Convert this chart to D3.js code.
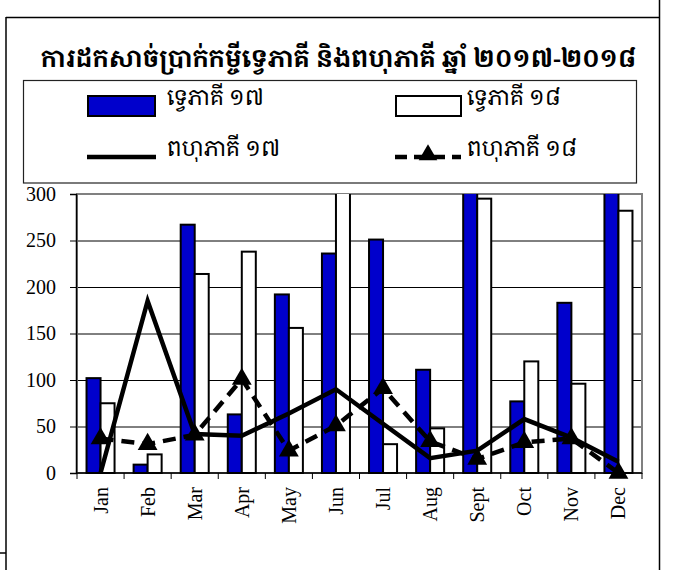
<!DOCTYPE html>
<html>
<head>
<meta charset="utf-8">
<script src="https://cdn.jsdelivr.net/npm/d3@7"></script>
<style>
  html, body { margin: 0; padding: 0; background: #fff; }
  svg { display: block; }
</style>
</head>
<body>
<svg id="chart" width="674" height="570"></svg>
<script>
const months = ["Jan","Feb","Mar","Apr","May","Jun","Jul","Aug","Sept","Oct","Nov","Dec"];
const bilateral17 = [102, 9, 267, 63, 192, 236, 251, 111, 320, 77, 183, 330];
const bilateral18 = [75, 20, 214, 238, 156, 310, 31, 48, 295, 120, 96, 282];
const multilateral17 = [0, 185, 42, 40, 64, 90, 53, 16, 24, 58, 38, 12];
const multilateral18 = [37, 31, 41, 101, 24, 51, 91, 34, 15, 33, 37, 0];
const yTicks = [0, 50, 100, 150, 200, 250, 300];
const titleText = "ការដកសាច់ប្រាក់កម្ចីទ្វេភាគី និងពហុភាគី ឆ្នាំ ២០១៧-២០១៨";
const legendLabels = ["ទ្វេភាគី ១៧", "ទ្វេភាគី ១៨", "ពហុភាគី ១៧", "ពហុភាគី ១៨"];

const khmerFont = "'Noto Serif Khmer', 'Noto Sans Khmer', 'Khmer OS', 'Khmer OS System', sans-serif";
const serif = "'Liberation Serif', 'Times New Roman', serif";
const blue = "#0000cc";

const svg = d3.select("#chart");

// outer frame lines
const frame = svg.append("g").attr("stroke", "#000").attr("stroke-width", 1.5).attr("fill", "none");
frame.append("line").attr("x1", 6).attr("x2", 659.5).attr("y1", 17.5).attr("y2", 17.5);
frame.append("line").attr("x1", 6).attr("x2", 6).attr("y1", 17).attr("y2", 570);
frame.append("line").attr("x1", 659.5).attr("x2", 659.5).attr("y1", 0).attr("y2", 570);
frame.append("line").attr("x1", 0).attr("x2", 6).attr("y1", 553).attr("y2", 553);

// title (font size fitted to the reference title width)
const title = svg.append("text")
  .attr("x", 338.5).attr("y", 67)
  .attr("text-anchor", "middle")
  .attr("font-family", khmerFont)
  .attr("font-weight", "bold")
  .attr("font-size", 28)
  .text(titleText);
const natural = title.node().getComputedTextLength();
if (natural > 0) title.attr("font-size", Math.min(30, 28 * 596 / natural));

// legend
const lg = svg.append("g");
lg.append("rect").attr("x", 23.5).attr("y", 80.5).attr("width", 613).attr("height", 102.5)
  .attr("fill", "#fff").attr("stroke", "#222").attr("stroke-width", 1.2);
lg.append("rect").attr("x", 88).attr("y", 96).attr("width", 67).attr("height", 20)
  .attr("fill", blue).attr("stroke", "#000").attr("stroke-width", 2);
lg.append("rect").attr("x", 396).attr("y", 96).attr("width", 65).attr("height", 20)
  .attr("fill", "#fff").attr("stroke", "#000").attr("stroke-width", 2);
lg.append("line").attr("x1", 87).attr("x2", 156).attr("y1", 157).attr("y2", 157)
  .attr("stroke", "#000").attr("stroke-width", 4.5);
lg.append("line").attr("x1", 395).attr("x2", 461).attr("y1", 157).attr("y2", 157)
  .attr("stroke", "#000").attr("stroke-width", 4.5).attr("stroke-dasharray", "12,7");
lg.append("path").attr("d", d3.symbol(d3.symbolTriangle, 150)())
  .attr("transform", "translate(428,155)").attr("fill", "#000");
const legendPos = [[167, 105], [467, 105], [167, 156], [467, 156]];
legendLabels.forEach((t, i) => {
  lg.append("text").attr("x", legendPos[i][0]).attr("y", legendPos[i][1])
    .attr("font-family", khmerFont).attr("font-size", 22).attr("fill", "#000").text(t);
});

// plot area
const pLeft = 77, pRight = 642, pTop = 194, pBottom = 473;
const x = d3.scaleBand().domain(months).range([pLeft, pRight]).padding(0);
const xs = d3.scaleBand().domain(["a", "b"]).range([0, x.bandwidth()]).paddingInner(0).paddingOuter(0.68);
const y = d3.scaleLinear().domain([0, 300]).range([pBottom, pTop]);

svg.append("defs").append("clipPath").attr("id", "plotclip")
  .append("rect").attr("x", pLeft).attr("y", pTop).attr("width", pRight - pLeft).attr("height", pBottom - pTop + 2);

// gridlines
svg.append("g").selectAll("line").data(yTicks.filter(v => v > 0 && v < 300)).join("line")
  .attr("x1", pLeft).attr("x2", pRight).attr("y1", d => y(d) + 0.5).attr("y2", d => y(d) + 0.5)
  .attr("stroke", "#000").attr("stroke-width", 1);

// plot border (grey)
svg.append("rect").attr("x", pLeft).attr("y", pTop).attr("width", pRight - pLeft).attr("height", pBottom - pTop)
  .attr("fill", "none").attr("stroke", "#808080").attr("stroke-width", 2);

// bars
const barsG = svg.append("g").attr("clip-path", "url(#plotclip)");
barsG.selectAll("rect.b17").data(bilateral17).join("rect").attr("class", "b17")
  .attr("x", (d, i) => x(months[i]) + xs("a"))
  .attr("y", d => y(d)).attr("width", xs.bandwidth()).attr("height", d => y(0) - y(d))
  .attr("fill", blue).attr("stroke", "#000").attr("stroke-width", 2);
barsG.selectAll("rect.b18").data(bilateral18).join("rect").attr("class", "b18")
  .attr("x", (d, i) => x(months[i]) + xs("b"))
  .attr("y", d => y(d)).attr("width", xs.bandwidth()).attr("height", d => y(0) - y(d))
  .attr("fill", "#fff").attr("stroke", "#000").attr("stroke-width", 2);

// axes
const yAxis = d3.axisLeft(y).tickValues(yTicks).tickSize(6).tickPadding(14);
const gy = svg.append("g").attr("transform", `translate(${pLeft - 1},0)`).call(yAxis);
gy.select(".domain").attr("stroke", "#000").attr("stroke-width", 1.5);
gy.selectAll(".tick line").attr("stroke", "#000");
gy.selectAll(".tick text").attr("font-family", serif).attr("font-size", 20).attr("fill", "#000");

const gx = svg.append("g").attr("transform", `translate(0,${pBottom})`);
gx.append("line").attr("x1", pLeft - 1).attr("x2", pRight).attr("y1", 0).attr("y2", 0)
  .attr("stroke", "#000").attr("stroke-width", 1.5);
const bounds = months.map(m => x(m)).concat([pRight]);
gx.selectAll("line.tk").data(bounds).join("line").attr("class", "tk")
  .attr("x1", d => d).attr("x2", d => d).attr("y1", 0).attr("y2", 6)
  .attr("stroke", "#000");
gx.selectAll("text").data(months).join("text")
  .attr("transform", d => `translate(${x(d) + x.bandwidth() / 2},14) rotate(-90)`)
  .attr("dy", "0.35em")
  .attr("text-anchor", "end")
  .attr("font-family", serif).attr("font-size", 20).attr("fill", "#000")
  .text(d => d);

// lines
const cx = i => x(months[i]) + x.bandwidth() / 2;
const line = d3.line().x((d, i) => cx(i)).y(d => y(d));
svg.append("path").datum(multilateral17).attr("d", line)
  .attr("fill", "none").attr("stroke", "#000").attr("stroke-width", 4.5).attr("stroke-linejoin", "miter");
svg.append("path").datum(multilateral18).attr("d", line)
  .attr("fill", "none").attr("stroke", "#000").attr("stroke-width", 4.5).attr("stroke-dasharray", "13,8");
svg.append("g").selectAll("path").data(multilateral18).join("path")
  .attr("d", d3.symbol(d3.symbolTriangle, 170)())
  .attr("transform", (d, i) => `translate(${cx(i)},${y(d)})`)
  .attr("fill", "#000");
</script>
</body>
</html>
